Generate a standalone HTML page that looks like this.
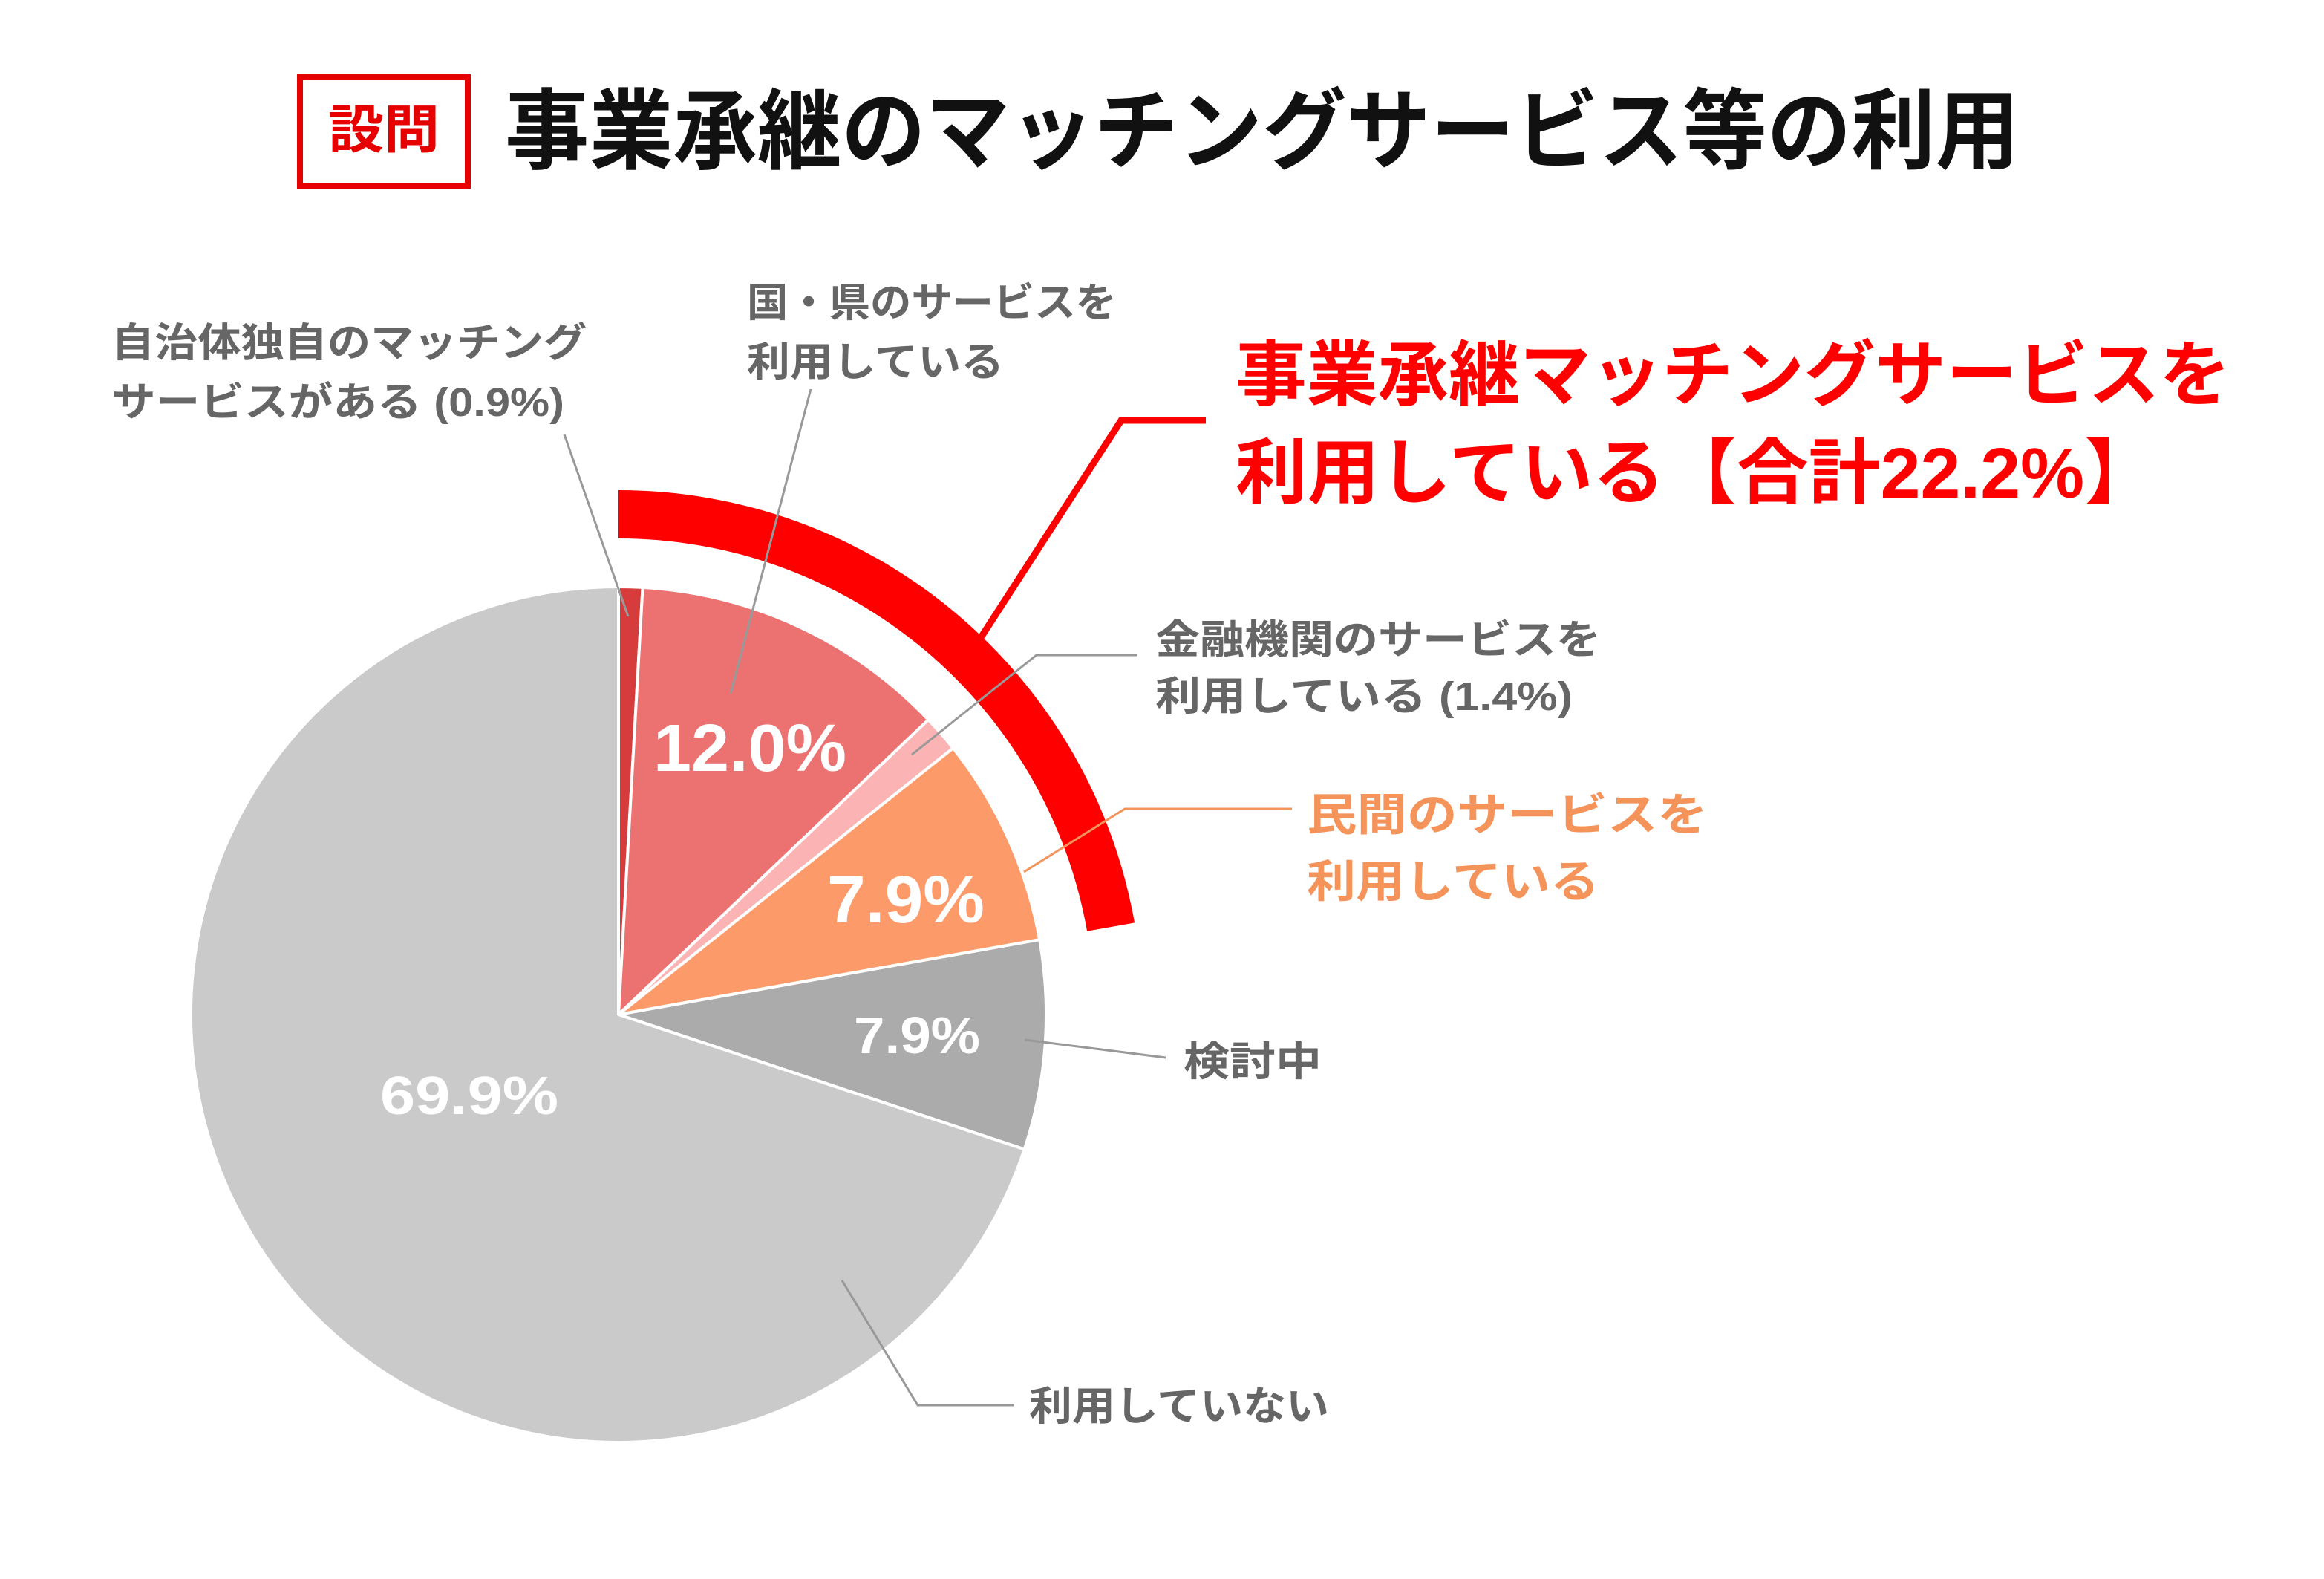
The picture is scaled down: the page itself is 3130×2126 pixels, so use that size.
<!DOCTYPE html>
<html><head><meta charset="utf-8"><style>
html,body{margin:0;padding:0;background:#fff;}
svg{display:block;}
text{font-family:"Liberation Sans","Noto Sans CJK JP",sans-serif;font-weight:700;}
</style></head><body>
<svg id="s" width="3130" height="2126" viewBox="0 0 3130 2126" xmlns="http://www.w3.org/2000/svg">
<rect width="3130" height="2126" fill="#fff"/>
<g id="pie"></g>
<rect x="404" y="104" width="226" height="146" fill="none" stroke="#e60000" stroke-width="8"/>
<text x="517" y="199" font-size="70" fill="#e60000" text-anchor="middle" textLength="150" lengthAdjust="spacingAndGlyphs">設問</text>
<text x="680" y="218" font-size="118" fill="#111" textLength="2040" lengthAdjust="spacingAndGlyphs">事業承継のマッチングサービス等の利用</text>
<text x="1664" y="538" font-size="96" fill="#f00" textLength="1340" lengthAdjust="spacingAndGlyphs">事業承継マッチングサービスを</text>
<text x="1664" y="670" font-size="96" fill="#f00" textLength="1240" lengthAdjust="spacingAndGlyphs">利用している【合計22.2%】</text>
<g fill="#666" font-size="54">
<text x="150" y="480" textLength="640" lengthAdjust="spacingAndGlyphs">自治体独自のマッチング</text>
<text x="150" y="560" textLength="610" lengthAdjust="spacingAndGlyphs">サービスがある (0.9%)</text>
<text x="1006" y="426" textLength="498" lengthAdjust="spacingAndGlyphs">国・県のサービスを</text>
<text x="1006" y="506" textLength="346" lengthAdjust="spacingAndGlyphs">利用している</text>
<text x="1556" y="880" textLength="600" lengthAdjust="spacingAndGlyphs">金融機関のサービスを</text>
<text x="1556" y="956" textLength="562" lengthAdjust="spacingAndGlyphs">利用している (1.4%)</text>
<text x="1594" y="1448" textLength="186" lengthAdjust="spacingAndGlyphs">検討中</text>
<text x="1386" y="1912" textLength="404" lengthAdjust="spacingAndGlyphs">利用していない</text>
</g>
<g fill="#f4935a" font-size="60">
<text x="1760" y="1118" textLength="540" lengthAdjust="spacingAndGlyphs">民間のサービスを</text>
<text x="1760" y="1208" textLength="394" lengthAdjust="spacingAndGlyphs">利用している</text>
</g>
<g fill="#fff">
<text x="880" y="1038" font-size="90" textLength="260" lengthAdjust="spacingAndGlyphs">12.0%</text>
<text x="1114" y="1242" font-size="90" textLength="212" lengthAdjust="spacingAndGlyphs">7.9%</text>
<text x="1150" y="1418" font-size="70" textLength="170" lengthAdjust="spacingAndGlyphs">7.9%</text>
<text x="512" y="1500" font-size="72" textLength="240" lengthAdjust="spacingAndGlyphs">69.9%</text>
</g>
<g fill="none" stroke="#999" stroke-width="3">
<polyline points="760,585 846,830"/>
<polyline points="1092,524 984,934"/>
<polyline points="1228,1016 1396,882 1532,882"/>
<polyline points="1380,1400 1570,1424"/>
<polyline points="1134,1724 1236,1892 1366,1892"/>
</g>
<polyline points="1379,1174 1515,1089 1740,1089" fill="none" stroke="#f4935a" stroke-width="3"/>
<polyline points="1320,860 1510,566 1624,566" fill="none" stroke="#f00" stroke-width="9"/>
</svg>
<script>
(function(){
var cx=833,cy=1366,r=576,ns="http://www.w3.org/2000/svg",g=document.getElementById("pie");
function pt(a,rr){a=a*Math.PI/180;return [cx+rr*Math.sin(a),cy-rr*Math.cos(a)];}
var v=[0.9,12.0,1.4,7.9,7.9,69.9],c=["#d63c3c","#ec7272","#fbb3b3","#fd9a69","#ababab","#cacaca"];
var s=0,tot=100;
for(var i=0;i<v.length;i++){
var a0=s/tot*360,a1=(s+v[i])/tot*360;s+=v[i];
var p0=pt(a0,r),p1=pt(a1,r);
var d="M"+cx+","+cy+"L"+p0+"A"+r+","+r+" 0 "+((a1-a0)>180?1:0)+" 1 "+p1+"Z";
var p=document.createElementNS(ns,"path");p.setAttribute("d",d);p.setAttribute("fill",c[i]);
p.setAttribute("stroke","#fff");p.setAttribute("stroke-width","4");p.setAttribute("stroke-linejoin","round");g.appendChild(p);}
var ro=706,ri=641,e=79.92,o1=pt(0,ro),o2=pt(e,ro),i2=pt(e,ri),i1=pt(0,ri);
var arc=document.createElementNS(ns,"path");
arc.setAttribute("d","M"+o1+"A"+ro+","+ro+" 0 0 1 "+o2+"L"+i2+"A"+ri+","+ri+" 0 0 0 "+i1+"Z");
arc.setAttribute("fill","#f00");g.appendChild(arc);
})();
</script>
</body></html>
